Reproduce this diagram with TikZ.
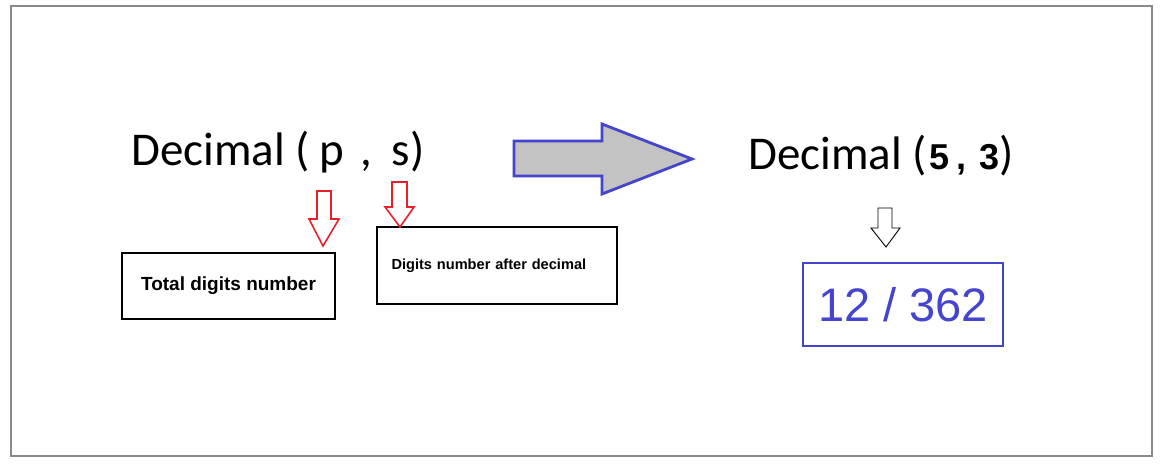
\documentclass[tikz,border=0pt]{standalone}
\usepackage{fontspec}
\setmainfont{Carlito}
\newfontfamily\arialfont{Liberation Sans}
\usepackage{tikz}
\definecolor{my_frame}{HTML}{8A8A8A}
\definecolor{my_blue}{HTML}{4444CC}
\definecolor{my_red}{HTML}{E8202A}
\definecolor{my_gray}{HTML}{C3C3C3}

\begin{document}
\begin{tikzpicture}[
    x=1pt, y=-1pt,
    labelbox/.style={draw=black, line width=2.6pt, inner sep=0pt,
                     font=\arialfont\bfseries},
    redarrow/.style={draw=my_red, line width=1.6pt, line join=miter},
    bigtext/.style={anchor=base west, inner sep=0pt,
                    font=\fontsize{47}{56}\selectfont}
]
\useasboundingbox (0,0) rectangle (1163,465);

% ---------------------------------------------------------------
%  Outer frame of the slide
% ---------------------------------------------------------------
\draw[my_frame, line width=1.4pt] (11,6) rectangle (1152,456);

% ---- Left side: the general type ----
\node[bigtext] (general) at (131,166)
    {Decimal (\hspace{10pt}p\hspace{5pt} ,\hspace{20pt}s)};

\node[labelbox, minimum width=213pt, minimum height=66pt,
      font=\arialfont\bfseries\fontsize{19}{22}\selectfont]
    (total) at (228.5,286) {Total digits number};

\node[labelbox, minimum height=77pt, text width=211pt, align=left,
      inner xsep=14.5pt,
      font=\arialfont\bfseries\fontsize{14.6}{17}\selectfont]
    (after) at (497,265.5) {Digits number after decimal};

% ---- Red pointers from p and s ----
\draw[redarrow] (317,191) -- (331,191) -- (331,219) -- (339,219)
    -- (323,246) -- (309,219) -- (317,219) -- cycle;
\draw[redarrow] (392,182) -- (407,182) -- (407,207) -- (414,207)
    -- (400,227) -- (385,207) -- (392,207) -- cycle;

% ---- Big block arrow ----
\draw[my_blue, fill=my_gray, line width=2.8pt, line join=miter]
    (514,141) -- (602,141) -- (602,124) -- (692,159)
    -- (602,194) -- (602,176) -- (514,176) -- cycle;

% ---- Right side: the example ----
\node[bigtext] (example) at (748,170)
    {Decimal (\hspace{3pt}{\arialfont\bfseries\fontsize{36}{40}\selectfont 5\hspace{7pt},\hspace{13pt}3})};

\draw[black, line width=0.9pt, fill=white]
    (878,208) -- (892,208) -- (892,228) -- (900,228)
    -- (886,247) -- (871,228) -- (878,228) -- cycle;

\node[draw=my_blue, line width=2.8pt, text=my_blue, inner sep=0pt,
      minimum width=200pt, minimum height=83pt,
      font=\arialfont\fontsize{47}{54}\selectfont]
    (range) at (903,304.5) {12 / 362};

\end{tikzpicture}
\end{document}
